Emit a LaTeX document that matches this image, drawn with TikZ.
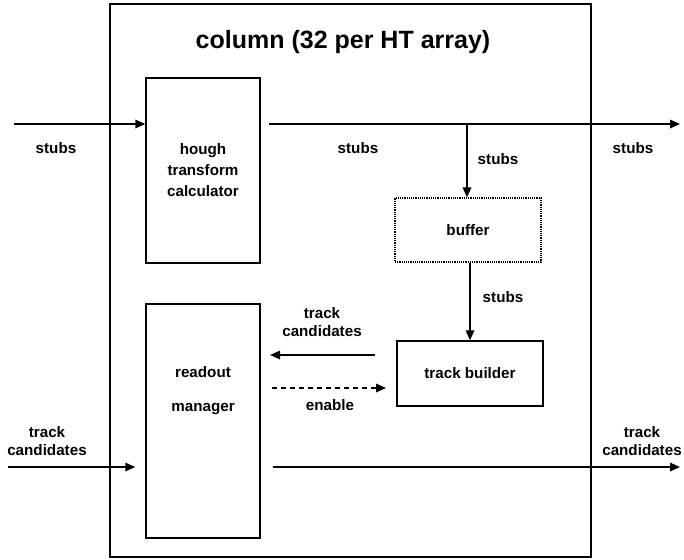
\documentclass[tikz,border=0pt]{standalone}
\usepackage{fontspec}
\setmainfont{Liberation Sans}
\usetikzlibrary{arrows.meta}
\tikzset{
  blk/.style={draw, line width=1.4pt, rectangle, inner sep=0pt},
  lbl/.style={font=\fontsize{15.2}{18}\selectfont\bfseries, align=center, inner sep=0pt},
  flow/.style={line width=1.7pt, -{Triangle[length=10pt,width=8.5pt]}},
}
\begin{document}
\begin{tikzpicture}[x=1pt,y=-1pt]
\useasboundingbox (0,0) rectangle (684,559);
% outer column frame
\draw[line width=2.2pt] (110,4) rectangle (591,557);
\node[font=\fontsize{25}{29}\selectfont\bfseries] (title) at (343,42) {column (32 per HT array)};

% blocks
\node[blk, minimum width=114pt, minimum height=185pt] (hough) at (203,170.5) {};
\node[lbl, font=\fontsize{15.2}{21}\selectfont\bfseries] at (hough.center) {hough\\transform\\calculator};
\node[blk, minimum width=114pt, minimum height=234pt] (readout) at (203,421) {};
\node[lbl] (rdA) at (203,372) {readout};
\node[lbl] (rdB) at (203,409) {manager};
\node[draw, densely dotted, line width=1.2pt, minimum width=146pt, minimum height=64pt, inner sep=0pt] (buffer) at (468,230) {};
\node[lbl] at (buffer.center) {buffer};
\node[blk, minimum width=146pt, minimum height=65pt] (builder) at (470,373.5) {};
\node[lbl] at (builder.center) {track builder};

% free ends of connectors
\coordinate (inS) at (14,124);
\coordinate (outS) at (680,124);
\coordinate (tap) at (467,124);
\coordinate (inT) at (8,467);
\coordinate (outT) at (680,467);
\coordinate (tcA) at (375,355);
\coordinate (tcB) at (270,355);
\coordinate (enA) at (272,388);
\coordinate (enB) at (386,388);

% stubs path
\draw[flow] (inS) -- (inS -| hough.west);
\draw[flow] ([xshift=8pt]hough.east |- inS) -- (outS);
\draw[flow] (tap) -- (tap |- buffer.north);
\draw[flow] (buffer.south -| builder.north) -- (builder.north);
\node[lbl] at (56,148) {stubs};
\node[lbl] at (358,148) {stubs};
\node[lbl] at (633,148) {stubs};
\node[lbl] at (498,159) {stubs};
\node[lbl] at (503,297) {stubs};

% track builder <-> readout manager
\draw[flow] (tcA) -- (tcB);
\node[lbl] at (322,322) {track\\candidates};
\draw[flow, dashed, dash pattern=on 5pt off 4pt] (enA) -- (enB);
\node[lbl] at (330,405) {enable};

% track candidates in/out
\draw[flow] (inT) -- ([xshift=-10pt]readout.west |- inT);
\draw[flow] ([xshift=12pt]readout.east |- outT) -- (outT);
\node[lbl] at (47,441) {track\\candidates};
\node[lbl] at (642,441) {track\\candidates};
\end{tikzpicture}
\end{document}
